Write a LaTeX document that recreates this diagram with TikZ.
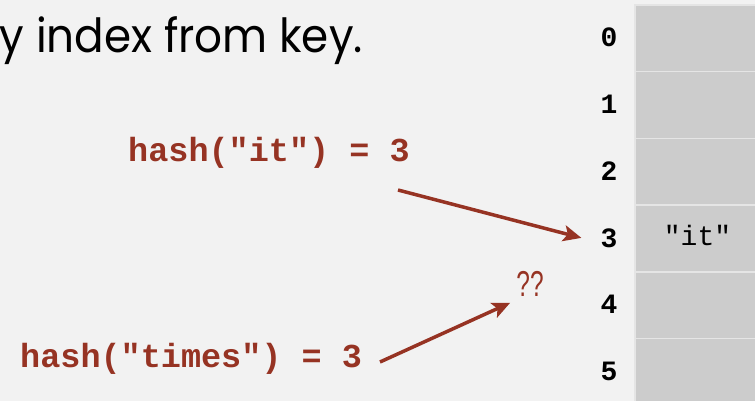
\documentclass[tikz,border=0pt]{standalone}
\usepackage{fontspec}
\setmainfont{Poppins}
\setmonofont{Liberation Mono}
\newfontfamily\qfont{Liberation Sans}
\usetikzlibrary{arrows.meta}
\definecolor{bg}{gray}{0.95}
\definecolor{cellgray}{gray}{0.8}
\definecolor{sepgray}{gray}{0.9}
\definecolor{rust}{RGB}{150,51,35}
\tikzset{
  slot/.style={draw=sepgray, line width=1.5pt, fill=cellgray, minimum width=125pt, minimum height=66.7pt, inner sep=0pt},
  idx/.style={font=\ttfamily\bfseries\fontsize{28}{28}\selectfont, inner sep=2pt, anchor=base},
  hashtxt/.style={text=rust, font=\ttfamily\bfseries\fontsize{33.5}{34}\selectfont, anchor=base west, inner sep=0pt},
  hasharrow/.style={rust, line width=3.5pt, -{Stealth[length=18pt,width=16pt,inset=4pt]}}
}
\begin{document}
\begin{tikzpicture}[x=1pt,y=-1pt]
\useasboundingbox (0,0) rectangle (755,401);
\clip (0,0) rectangle (755,401);
\fill [bg] (0,0) rectangle (755,401);
\foreach \i in {0,...,5} {
  \node [slot] (c\i) at (697.5,{38.3+66.7*\i}) {};
  \node [idx] (i\i) at (609,{47+66.7*\i}) {\i};
}
\node [font=\ttfamily\fontsize{28}{28}\selectfont, anchor=base] (it) at ([yshift=-7pt]c3.center) {"it"};
\node [anchor=base east, inner sep=0pt, font=\fontsize{47}{47}\selectfont] (title) at (363,53) {\scalebox{0.93}[1]{y index from key.}};
\node [hashtxt] (hit) at (128,161) {hash("it") = 3};
\node [hashtxt] (htimes) at (20,367) {hash("times") = 3};
\node [text=rust, font=\qfont\fontsize{36}{36}\selectfont, inner sep=6pt] (qq) at (530,284) {\scalebox{0.68}[1]{??}};
\coordinate (itfrom) at (398,190);
\coordinate (timesfrom) at (380,362);
\draw [hasharrow] (itfrom) -- ([xshift=-17pt]i3.west);
\draw [hasharrow] (timesfrom) -- (qq.south west);
\end{tikzpicture}
\end{document}
